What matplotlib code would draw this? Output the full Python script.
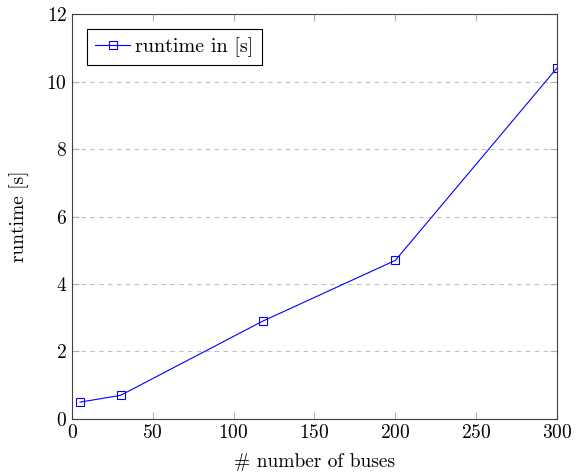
import matplotlib.pyplot as plt

plt.rcParams['font.family'] = 'cmr10'
plt.rcParams['mathtext.fontset'] = 'cm'
plt.rcParams['axes.formatter.use_mathtext'] = True

buses = [5, 30, 118, 200, 300]
runtime = [0.5, 0.7, 2.9, 4.7, 10.4]

fig = plt.figure(figsize=(5.77, 4.72), dpi=100)
ax = fig.add_axes([0.1248, 0.1123, 0.8405, 0.858])

ax.plot(buses, runtime, color='blue', lw=0.8, marker='s', ms=6,
        mfc='none', mec='blue', mew=0.8, label='runtime in [s]')

ax.set_xlim(0, 300)
ax.set_ylim(0, 12)
ax.set_xticks(range(0, 301, 50))
ax.set_yticks(range(0, 13, 2))
ax.yaxis.grid(True, ls=(0, (4, 4)), color='#c0c0c0', lw=0.8)
ax.tick_params(direction='in', color='#b0b0b0', length=5, top=True, right=True,
               labelsize=14)
for s in ax.spines.values():
    s.set_linewidth(0.8)
    s.set_color('#404040')

ax.set_xlabel('# number of buses', fontsize=14, labelpad=8)
ax.set_ylabel('runtime [s]', fontsize=14)
ax.yaxis.set_label_coords(-0.088, 0.5)
leg = ax.legend(loc='upper left', fontsize=14.5, fancybox=False, framealpha=1,
                edgecolor='black', handlelength=1.75, handletextpad=0.25,
                borderpad=0.4, borderaxespad=0.75, markerscale=0.85)
leg.get_frame().set_linewidth(0.8)

fig.savefig('out.png')
